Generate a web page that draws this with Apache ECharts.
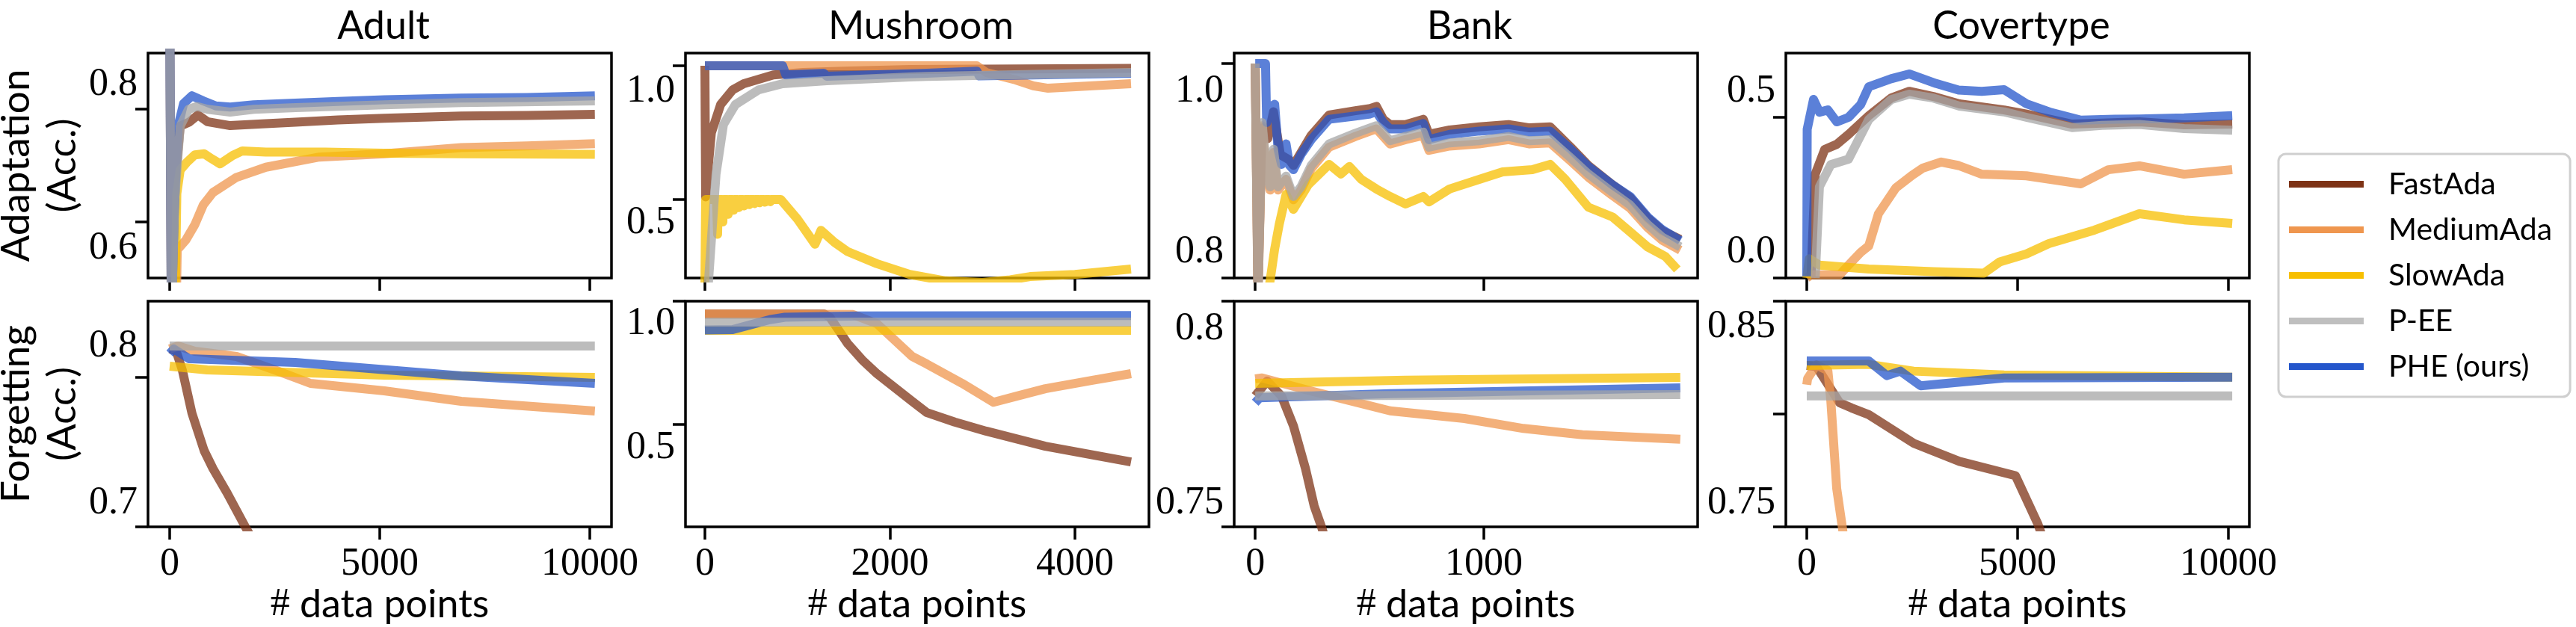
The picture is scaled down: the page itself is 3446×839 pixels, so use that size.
<!DOCTYPE html>
<html>
<head>
<meta charset="utf-8">
<script src="https://cdn.jsdelivr.net/npm/echarts@6/dist/echarts.min.js"></script>
<style>
  html, body { margin: 0; padding: 0; background: #fff; }
  #main { width: 3446px; height: 839px; }
</style>
</head>
<body>
<div id="main"></div>
<script>
// methods in legend order
const methods = ['FastAda', 'MediumAda', 'SlowAda', 'P-EE', 'PHE (ours)'];
const datasets = ['Adult', 'Mushroom', 'Bank', 'Covertype'];

// ---- x axes: range and ticks (# data points)
const adultX = [-516, 10516];   const adultXTicks = [0, 5000, 10000];
const mushX = [-210, 4800];     const mushXTicks = [0, 2000, 4000];
const bankX = [-92, 1935];      const bankXTicks = [0, 1000];
const coverX = [-496, 10496];   const coverXTicks = [0, 5000, 10000];

// ---- y axes: range, ticks, tick texts
const adultAdaptY = [0.5, 0.9];       const adultAdaptTicks = [0.6, 0.8];   const adultAdaptText = ['0.6', '0.8'];
const mushAdaptY = [0.2067, 1.0475];  const mushAdaptTicks = [0.5, 1.0];    const mushAdaptText = ['0.5', '1.0'];
const bankAdaptY = [0.8, 1.00976];    const bankAdaptTicks = [0.8, 1.0];    const bankAdaptText = ['0.8', '1.0'];
const coverAdaptY = [0.0, 0.7];       const coverAdaptTicks = [0.0, 0.5];   const coverAdaptText = ['0.0', '0.5'];
const adultForgetY = [0.7, 0.851];    const adultForgetTicks = [0.7, 0.8];  const adultForgetText = ['0.7', '0.8'];
const mushForgetY = [0.085, 1.0];     const mushForgetTicks = [0.5, 1.0];   const mushForgetText = ['0.5', '1.0'];
const bankForgetY = [0.75, 0.8];      const bankForgetTicks = [0.75, 0.8];  const bankForgetText = ['0.75', '0.8'];
const coverForgetY = [0.75, 0.85];    const coverForgetTicks = [0.75, 0.8, 0.85]; const coverForgetText = ['0.75', '', '0.85'];

// ---- Adult, adaptation
const adultAdaptFast = [[0,1.0],[40,0.42],[130,0.67],[250,0.77],[460,0.777],[675,0.79],[900,0.778],[1440,0.771],[2200,0.774],[2990,0.777],[4000,0.781],[5110,0.784],[6940,0.788],[8500,0.789],[10120,0.791]];
const adultAdaptMedium = [[120,0.3],[180,0.55],[390,0.568],[600,0.595],[800,0.63],[1030,0.652],[1590,0.679],[2290,0.697],[3560,0.715],[5110,0.721],[6940,0.732],[8500,0.735],[10120,0.739]];
const adultAdaptSlow = [[100,0.3],[170,0.65],[250,0.692],[400,0.705],[600,0.719],[820,0.721],[1000,0.712],[1200,0.703],[1500,0.718],[1730,0.726],[2290,0.724],[3700,0.724],[5110,0.722],[6940,0.721],[10120,0.72]];
const adultAdaptPee = [[0,1.0],[40,0.42],[120,0.64],[250,0.77],[450,0.8],[650,0.805],[900,0.8],[1440,0.795],[2000,0.8],[3000,0.803],[5110,0.808],[6940,0.812],[10120,0.815]];
const adultAdaptPhe = [[0,1.0],[40,0.42],[110,0.62],[200,0.77],[330,0.81],[530,0.824],[800,0.815],[1100,0.806],[1440,0.804],[2000,0.808],[2990,0.811],[4000,0.814],[5110,0.817],[6940,0.82],[8500,0.821],[10120,0.824]];

// ---- Mushroom, adaptation
const mushAdaptFast = [[0,1.0],[8,0.51],[30,0.6],[70,0.75],[170,0.855],[300,0.91],[420,0.933],[740,0.966],[1060,0.975],[1500,0.98],[2214,0.986],[4606,0.99]];
const mushAdaptMedium = [[0,1.0],[2940,1.0],[3040,0.975],[3360,0.947],[3550,0.925],[3710,0.916],[4606,0.933]];
const mushAdaptSlow = [[0,0.18],[8,0.5],[125,0.5],[137,0.37],[145,0.5],[182,0.5],[194,0.416],[202,0.5],[239,0.5],[251,0.445],[259,0.5],[296,0.5],[308,0.46],[316,0.5],[353,0.5],[365,0.47],[373,0.5],[410,0.5],[422,0.476],[430,0.5],[467,0.5],[479,0.481],[487,0.5],[524,0.5],[536,0.485],[544,0.5],[581,0.5],[593,0.488],[601,0.5],[638,0.5],[650,0.49],[658,0.5],[695,0.5],[707,0.492],[715,0.5],[820,0.5],[1000,0.427],[1190,0.333],[1255,0.385],[1400,0.34],[1545,0.305],[1860,0.26],[2214,0.22],[2600,0.196],[3000,0.19],[3300,0.2],[3515,0.212],[4000,0.22],[4606,0.24]];
const mushAdaptPee = [[30,0.15],[60,0.3],[120,0.595],[200,0.78],[330,0.855],[580,0.91],[840,0.933],[1317,0.944],[2214,0.958],[2400,0.96],[4606,0.975]];
const mushAdaptPhe = [[0,1.0],[840,1.0],[875,0.966],[1285,0.972],[1317,0.961],[2400,0.972],[2940,0.98],[2965,0.962],[4606,0.972]];

// ---- Bank, adaptation
const bankAdaptFast = [[0,1.0],[12,0.79],[30,0.94],[55,0.93],[80,0.955],[110,0.915],[150,0.91],[167,0.905],[245,0.933],[323,0.952],[438,0.956],[503,0.958],[530,0.96],[560,0.948],[590,0.943],[657,0.943],[735,0.948],[760,0.934],[850,0.938],[980,0.941],[1108,0.943],[1200,0.94],[1290,0.941],[1380,0.922],[1457,0.905],[1562,0.887],[1640,0.875],[1716,0.856],[1781,0.844],[1859,0.836]];
const bankAdaptMedium = [[0,1.0],[12,0.78],[30,0.942],[50,0.897],[65,0.882],[80,0.917],[100,0.882],[135,0.892],[167,0.873],[200,0.882],[245,0.902],[323,0.922],[438,0.932],[503,0.937],[530,0.939],[590,0.925],[657,0.929],[735,0.933],[760,0.919],[850,0.923],[980,0.925],[1108,0.929],[1200,0.925],[1290,0.926],[1380,0.909],[1457,0.894],[1562,0.877],[1640,0.865],[1716,0.847],[1781,0.835],[1859,0.826]];
const bankAdaptSlow = [[60,0.79],[85,0.827],[105,0.85],[135,0.878],[167,0.864],[232,0.887],[323,0.906],[375,0.897],[412,0.904],[464,0.892],[530,0.883],[590,0.876],[657,0.869],[735,0.876],[760,0.871],[850,0.883],[980,0.892],[1082,0.899],[1212,0.901],[1290,0.906],[1356,0.892],[1457,0.866],[1562,0.857],[1640,0.843],[1716,0.829],[1794,0.82],[1846,0.808]];
const bankAdaptPee = [[0,1.0],[12,0.78],[30,0.945],[50,0.9],[65,0.885],[80,0.92],[100,0.885],[135,0.895],[167,0.876],[200,0.885],[245,0.905],[323,0.925],[438,0.935],[503,0.94],[530,0.942],[590,0.928],[657,0.932],[735,0.936],[760,0.922],[850,0.926],[980,0.928],[1108,0.932],[1200,0.928],[1290,0.929],[1380,0.912],[1457,0.897],[1562,0.88],[1640,0.868],[1716,0.85],[1781,0.838],[1859,0.829]];
const bankAdaptPhe = [[0,1.0],[45,1.0],[50,0.945],[70,0.96],[85,0.962],[100,0.92],[115,0.906],[135,0.925],[150,0.905],[167,0.901],[200,0.915],[245,0.929],[323,0.948],[438,0.951],[503,0.953],[530,0.955],[560,0.945],[590,0.939],[657,0.939],[735,0.944],[760,0.929],[850,0.934],[980,0.937],[1108,0.939],[1200,0.936],[1290,0.937],[1380,0.92],[1457,0.904],[1562,0.887],[1640,0.876],[1716,0.857],[1781,0.845],[1859,0.835]];

// ---- Covertype, adaptation
const coverAdaptFast = [[100,0.0],[160,0.2],[200,0.323],[425,0.4],[710,0.416],[990,0.447],[1470,0.505],[2000,0.56],[2430,0.581],[3000,0.565],[3620,0.542],[4680,0.523],[5210,0.51],[6290,0.479],[7000,0.482],[7890,0.486],[8950,0.477],[10090,0.479]];
const coverAdaptMedium = [[0,0.0],[100,0.01],[780,0.01],[990,0.04],[1280,0.08],[1470,0.1],[1700,0.2],[2110,0.28],[2500,0.32],[2750,0.342],[3190,0.361],[3600,0.35],[4150,0.323],[5210,0.318],[6500,0.293],[7150,0.337],[7890,0.349],[8950,0.323],[10090,0.337]];
const coverAdaptSlow = [[0,0.0],[60,0.06],[300,0.04],[1470,0.028],[3000,0.02],[4200,0.015],[4575,0.05],[5210,0.075],[5740,0.107],[6820,0.149],[7890,0.2],[8950,0.181],[10090,0.17]];
const coverAdaptPee = [[200,0.0],[300,0.284],[570,0.353],[990,0.37],[1470,0.493],[2000,0.555],[2430,0.572],[3000,0.56],[3620,0.535],[4680,0.517],[5210,0.5],[6290,0.468],[7000,0.475],[7890,0.478],[8950,0.465],[10090,0.46]];
const coverAdaptPhe = [[0,0.005],[10,0.463],[160,0.556],[300,0.516],[500,0.523],[710,0.486],[990,0.5],[1280,0.54],[1470,0.595],[2000,0.62],[2430,0.635],[3070,0.605],[3600,0.585],[4150,0.581],[4680,0.586],[5210,0.542],[5800,0.515],[6500,0.491],[7300,0.494],[7890,0.495],[8950,0.498],[10090,0.505]];

// ---- Adult, forgetting
const adultForgetFast = [[0,0.819],[150,0.818],[300,0.805],[530,0.776],[820,0.751],[1030,0.739],[1370,0.7225],[1800,0.7],[2000,0.69]];
const adultForgetMedium = [[0,0.819],[200,0.821],[600,0.8175],[1590,0.814],[2500,0.805],[3350,0.796],[5110,0.791],[6940,0.784],[10120,0.7775]];
const adultForgetSlow = [[0,0.8075],[890,0.805],[5110,0.8015],[10120,0.8]];
const adultForgetPee = [[0,0.821],[10120,0.821]];
const adultForgetPhe = [[0,0.816],[100,0.819],[460,0.8125],[2990,0.81],[6940,0.801],[10120,0.796]];

// ---- Mushroom, forgetting
const mushForgetFast = [[0,0.948],[1290,0.948],[1350,0.935],[1450,0.88],[1545,0.827],[1700,0.762],[1860,0.706],[2240,0.594],[2400,0.548],[2700,0.51],[3040,0.473],[3680,0.412],[4606,0.348]];
const mushForgetMedium = [[0,0.948],[1600,0.946],[1860,0.909],[2240,0.776],[2400,0.745],[2780,0.667],[3120,0.59],[3400,0.618],[3680,0.645],[4200,0.68],[4606,0.706]];
const mushForgetSlow = [[0,0.882],[4606,0.882]];
const mushForgetPee = [[0,0.915],[4606,0.915]];
const mushForgetPhe = [[0,0.883],[300,0.885],[500,0.905],[700,0.925],[865,0.935],[1670,0.94],[4606,0.942]];

// ---- Bank, forgetting
const bankForgetFast = [[0,0.779],[52,0.7823],[115,0.779],[167,0.7724],[220,0.7629],[258,0.7546],[290,0.75],[320,0.745]];
const bankForgetMedium = [[0,0.7828],[30,0.783],[245,0.7801],[590,0.7757],[915,0.774],[1173,0.7718],[1431,0.7704],[1859,0.7694]];
const bankForgetSlow = [[0,0.7818],[657,0.7825],[1859,0.7831]];
const bankForgetPee = [[0,0.779],[1859,0.7793]];
const bankForgetPhe = [[0,0.7775],[20,0.7786],[590,0.7795],[1859,0.7808]];

// ---- Covertype, forgetting
const coverForgetFast = [[0,0.8215],[230,0.821],[780,0.805],[1060,0.8027],[1470,0.7997],[2540,0.787],[3620,0.779],[4950,0.7727],[5480,0.7513],[5600,0.745]];
const coverForgetMedium = [[0,0.813],[20,0.8157],[230,0.8217],[500,0.8193],[570,0.806],[710,0.767],[850,0.749],[900,0.74]];
const coverForgetSlow = [[0,0.8215],[1470,0.822],[2535,0.819],[4680,0.8173],[10090,0.8163]];
const coverForgetPee = [[0,0.808],[10090,0.808]];
const coverForgetPhe = [[0,0.8235],[1470,0.8235],[1900,0.817],[2220,0.819],[2700,0.8125],[4680,0.816],[10090,0.8163]];

// ---------------- layout & style ----------------
const serif = 'Liberation Serif';
const sans = 'Lato';
const lineColors = ['#7e3316', '#ef964e', '#f7bf00', '#a6a6a6', '#2456cb'];
const legendColors = ['#7e3316', '#ef964e', '#f7bf00', '#bfbfbf', '#2456cb'];
const drawOrder = [0, 1, 2, 4, 3]; // P-EE drawn on top

const colLeft = [198, 917, 1651, 2389];
const rowTop = [71, 403];
const panelW = 620;
const panelH = [301, 302];

const xCfg = [
  { range: adultX, ticks: adultXTicks },
  { range: mushX, ticks: mushXTicks },
  { range: bankX, ticks: bankXTicks },
  { range: coverX, ticks: coverXTicks }
];
// per panel y setup; nudge = vertical pixel shift of each tick text
const yCfg = [
  [
    { range: adultAdaptY, ticks: adultAdaptTicks, text: adultAdaptText, nudge: [36, -33] },
    { range: mushAdaptY, ticks: mushAdaptTicks, text: mushAdaptText, nudge: [31, 34] },
    { range: bankAdaptY, ticks: bankAdaptTicks, text: bankAdaptText, nudge: [-35, 37] },
    { range: coverAdaptY, ticks: coverAdaptTicks, text: coverAdaptText, nudge: [-35, -35] }
  ],
  [
    { range: adultForgetY, ticks: adultForgetTicks, text: adultForgetText, nudge: [-32, -42] },
    { range: mushForgetY, ticks: mushForgetTicks, text: mushForgetText, nudge: [31, 30] },
    { range: bankForgetY, ticks: bankForgetTicks, text: bankForgetText, nudge: [-32, 37] },
    { range: coverForgetY, ticks: coverForgetTicks, text: coverForgetText, nudge: [-32, 0, 34] }
  ]
];
const seriesData = [
  [
    [adultAdaptFast, adultAdaptMedium, adultAdaptSlow, adultAdaptPee, adultAdaptPhe],
    [mushAdaptFast, mushAdaptMedium, mushAdaptSlow, mushAdaptPee, mushAdaptPhe],
    [bankAdaptFast, bankAdaptMedium, bankAdaptSlow, bankAdaptPee, bankAdaptPhe],
    [coverAdaptFast, coverAdaptMedium, coverAdaptSlow, coverAdaptPee, coverAdaptPhe]
  ],
  [
    [adultForgetFast, adultForgetMedium, adultForgetSlow, adultForgetPee, adultForgetPhe],
    [mushForgetFast, mushForgetMedium, mushForgetSlow, mushForgetPee, mushForgetPhe],
    [bankForgetFast, bankForgetMedium, bankForgetSlow, bankForgetPee, bankForgetPhe],
    [coverForgetFast, coverForgetMedium, coverForgetSlow, coverForgetPee, coverForgetPhe]
  ]
];
const rowNames = ['Adaptation\n(Acc.)', 'Forgetting\n(Acc.)'];

function nearest(arr, v) {
  let best = 0;
  arr.forEach((a, i) => { if (Math.abs(a - v) < Math.abs(arr[best] - v)) best = i; });
  return best;
}

const tickStyle = { show: true, inside: false, length: 17, lineStyle: { color: '#000', width: 3.5 } };

const grids = [], xAxes = [], yAxes = [], series = [], titles = [];
for (let r = 0; r < 2; r++) {
  for (let c = 0; c < 4; c++) {
    const idx = grids.length;
    grids.push({
      left: colLeft[c], top: rowTop[r], width: panelW, height: panelH[r],
      show: true, borderColor: '#000', borderWidth: 3.5, backgroundColor: 'transparent',
      outerBoundsMode: 'none'
    });
    const xc = xCfg[c];
    xAxes.push({
      type: 'value', gridIndex: idx, min: xc.range[0], max: xc.range[1], position: 'bottom',
      axisLine: { show: false, onZero: false }, splitLine: { show: false },
      axisTick: Object.assign({ customValues: xc.ticks }, tickStyle),
      axisLabel: {
        show: r === 1, customValues: xc.ticks, margin: 24,
        fontFamily: serif, fontSize: 52, color: '#000',
        formatter: v => String(v)
      },
      name: r === 1 ? '{h|#} data points' : '',
      nameLocation: 'middle', nameGap: 78,
      nameTextStyle: { fontFamily: sans, fontSize: 52, color: '#000',
        rich: { h: { fontFamily: serif, fontSize: 52, color: '#000' } } }
    });
    const yc = yCfg[r][c];
    const rich = {};
    yc.nudge.forEach((d, i) => {
      rich['n' + i] = {
        fontFamily: serif, fontSize: 52, color: '#000',
        padding: d > 0 ? [2 * d, 0, 0, 0] : [0, 0, -2 * d, 0]
      };
    });
    yAxes.push({
      type: 'value', gridIndex: idx, min: yc.range[0], max: yc.range[1], position: 'left',
      axisLine: { show: false, onZero: false }, splitLine: { show: false },
      axisTick: Object.assign({ customValues: yc.ticks }, tickStyle),
      axisLabel: {
        show: true, customValues: yc.ticks, margin: 14,
        fontFamily: serif, fontSize: 52, color: '#000',
        formatter: v => {
          const i = nearest(yc.ticks, v);
          return yc.text[i] ? '{n' + i + '|' + yc.text[i] + '}' : '';
        },
        rich
      },
      name: c === 0 ? rowNames[r] : '',
      nameLocation: 'middle', nameGap: 74,
      nameTextStyle: { fontFamily: sans, fontSize: 53, lineHeight: 62, color: '#000', align: 'center' }
    });
    drawOrder.forEach((m, k) => {
      series.push({
        type: 'line', name: methods[m],
        xAxisIndex: idx, yAxisIndex: idx,
        data: seriesData[r][c][m],
        showSymbol: false, symbol: 'none', clip: true, silent: true,
        z: 2 + k,
        lineStyle: { width: 12, color: lineColors[m], opacity: 0.75, cap: 'butt', join: 'round' },
        itemStyle: { color: lineColors[m] },
        emphasis: { disabled: true }
      });
    });
    if (r === 0) {
      titles.push({
        text: datasets[c], left: colLeft[c] + panelW / 2, top: 4, textAlign: 'center',
        textStyle: { fontFamily: sans, fontSize: 52, fontWeight: 'normal', color: '#000' }
      });
    }
  }
}

const chart = echarts.init(document.getElementById('main'));
chart.setOption({
  animation: false,
  backgroundColor: '#fff',
  title: titles,
  grid: grids,
  xAxis: xAxes,
  yAxis: yAxes,
  legend: {
    orient: 'vertical', left: 3048, top: 206,
    icon: 'rect', itemWidth: 100, itemHeight: 9, itemGap: 20,
    padding: [20, 24, 20, 14],
    borderColor: '#cfcfcf', borderWidth: 3, borderRadius: 10, backgroundColor: '#fff',
    textStyle: { fontFamily: sans, fontSize: 41, color: '#000', padding: [0, 0, 0, 28] },
    selectedMode: false,
    data: methods.map((m, i) => ({ name: m, itemStyle: { color: legendColors[i], opacity: 1 } }))
  },
  series: series
});
</script>
</body>
</html>
